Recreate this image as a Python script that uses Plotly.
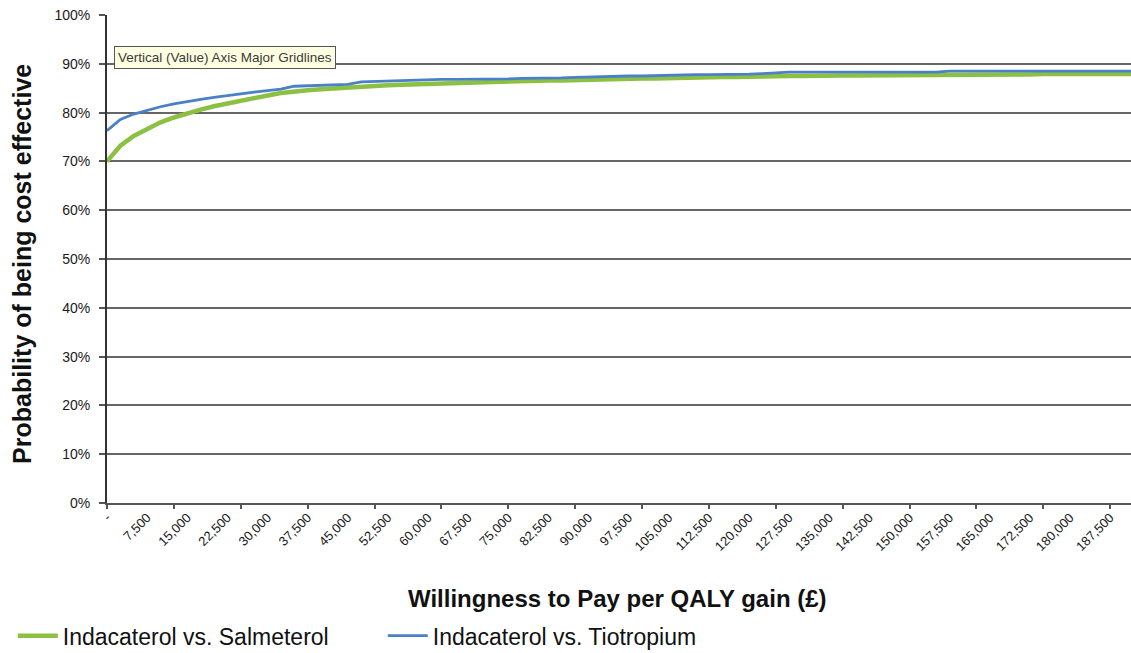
import plotly.graph_objects as go

# Willingness-to-pay thresholds (GBP per QALY), every 2,500
wtp = [i * 2500 for i in range(78)]

# Probability that indacaterol is cost effective (%)
salmeterol = [
    70.0, 73.2, 75.2, 76.6, 78.0, 79.0, 79.9, 80.6, 81.3, 81.9,
    82.5, 83.0, 83.5, 84.0, 84.4, 84.6, 84.8, 85.0, 85.1, 85.3,
    85.5, 85.6, 85.7, 85.8, 85.9, 86.0, 86.1, 86.2, 86.3, 86.3,
    86.4, 86.5, 86.5, 86.6, 86.6, 86.7, 86.7, 86.8, 86.9, 86.9,
    87.0, 87.0, 87.1, 87.1, 87.2, 87.2, 87.3, 87.3, 87.4, 87.4,
    87.5, 87.5, 87.5, 87.6, 87.6, 87.6, 87.6, 87.6, 87.7, 87.7,
    87.7, 87.7, 87.7, 87.8, 87.8, 87.8, 87.8, 87.8, 87.8, 87.8,
    87.9, 87.9, 87.9, 87.9, 87.9, 87.9, 87.9, 87.9,
]
tiotropium = [
    76.3, 78.6, 79.7, 80.5, 81.2, 81.8, 82.3, 82.7, 83.1, 83.5,
    83.9, 84.2, 84.5, 84.8, 85.4, 85.5, 85.6, 85.7, 85.8, 86.3,
    86.4, 86.4, 86.5, 86.6, 86.7, 86.8, 86.8, 86.8, 86.8, 86.9,
    86.9, 87.0, 87.0, 87.1, 87.1, 87.2, 87.3, 87.3, 87.4, 87.5,
    87.5, 87.6, 87.6, 87.7, 87.8, 87.8, 87.8, 87.9, 87.9, 88.0,
    88.2, 88.3, 88.3, 88.3, 88.3, 88.3, 88.3, 88.3, 88.3, 88.3,
    88.3, 88.3, 88.3, 88.5, 88.5, 88.5, 88.5, 88.5, 88.5, 88.5,
    88.5, 88.5, 88.5, 88.5, 88.5, 88.5, 88.5, 88.5,
]

# Axis labels every 7,500; tick marks every 12,500
label_vals = list(range(0, 187501, 7500))
label_text = ["-"] + [f"{v:,}" for v in label_vals[1:]]
x_max = 191400

GREEN = "#8cc043"
BLUE = "#4a80c8"
FONT = "Liberation Sans, Arial, sans-serif"

fig = go.Figure()
fig.add_trace(go.Scatter(
    x=wtp, y=[v / 100 for v in salmeterol], mode="lines",
    name="Indacaterol vs. Salmeterol",
    line=dict(color=GREEN, width=4.5),
    xaxis="x",
))
# Drawn on the overlaid tick-mark axis (same range) so it sits on top
fig.add_trace(go.Scatter(
    x=wtp, y=[v / 100 for v in tiotropium], mode="lines",
    name="Indacaterol vs. Tiotropium",
    line=dict(color=BLUE, width=2.8),
    xaxis="x2",
))

fig.update_layout(
    width=1131, height=653,
    margin=dict(l=107, r=0, t=15, b=150, autoexpand=False),
    paper_bgcolor="white", plot_bgcolor="white",
    font=dict(family=FONT, color="#222"),
    showlegend=True,
    legend=dict(
        orientation="h", x=-0.092, xanchor="left", y=-0.272, yanchor="middle",
        font=dict(size=23, color="#111", family=FONT),
        entrywidth=315, entrywidthmode="pixels",
        itemwidth=40, bgcolor="rgba(0,0,0,0)",
    ),
    xaxis=dict(
        range=[0, x_max], tickvals=label_vals, ticktext=label_text,
        tickangle=-45, tickfont=dict(size=13, color="#1a1a1a"),
        ticks="", showgrid=False, zeroline=False, automargin=False,
        showline=True, linecolor="#555", linewidth=1.8,
    ),
    xaxis2=dict(
        range=[0, x_max], overlaying="x", anchor="y", side="bottom",
        tick0=0, dtick=12500, ticks="outside", ticklen=5, tickwidth=1.8,
        tickcolor="#555", showticklabels=False, showgrid=False,
        zeroline=False, showline=False, automargin=False,
    ),
    yaxis=dict(
        range=[0, 1], dtick=0.1, tickformat=".0%",
        tickfont=dict(size=14, color="#1a1a1a"),
        ticks="outside", ticklen=6, tickwidth=1.5, tickcolor="#555",
        ticklabelstandoff=6, automargin=False,
        showgrid=True, gridcolor="#666", gridwidth=1.8,
        zeroline=False, showline=True, linecolor="#333", linewidth=2,
    ),
    annotations=[
        dict(
            text="<b>Willingness to Pay per QALY gain (£)</b>",
            xref="paper", yref="paper", x=0.499, y=-0.195,
            xanchor="center", yanchor="middle", showarrow=False,
            font=dict(size=24, color="#111", family=FONT),
        ),
        dict(
            text="<b>Probability of being cost effective</b>",
            xref="paper", yref="paper", x=-0.083, y=0.49,
            xanchor="center", yanchor="middle", showarrow=False,
            textangle=-90,
            font=dict(size=25, color="#111", family=FONT),
        ),
        dict(
            text="Vertical (Value) Axis Major Gridlines",
            xref="paper", yref="paper", x=0.115, y=0.913,
            xanchor="center", yanchor="middle", showarrow=False,
            bgcolor="#ffffe1", bordercolor="#555", borderwidth=1,
            borderpad=3,
            font=dict(size=13.5, color="#3a3a3a", family=FONT),
        ),
    ],
)

fig.write_html("out.html")
